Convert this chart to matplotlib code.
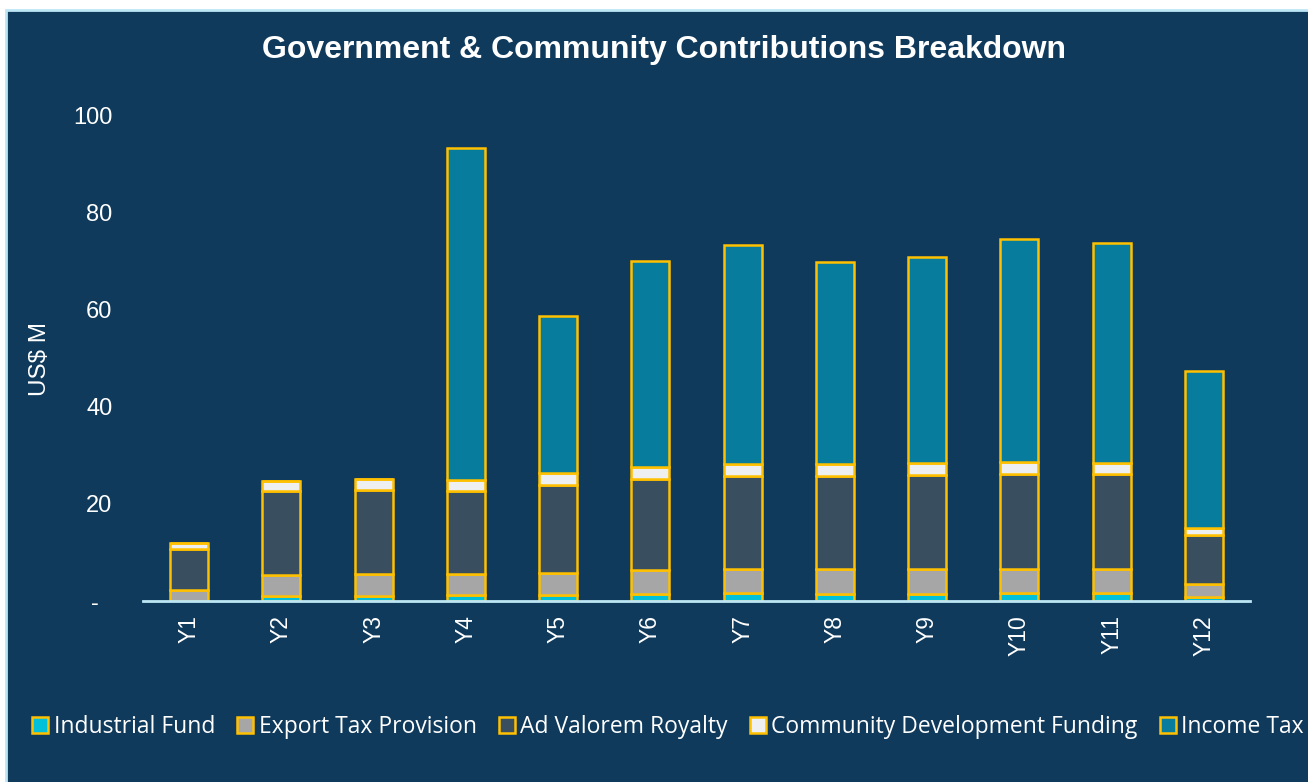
import matplotlib
matplotlib.use("Agg")
import matplotlib.pyplot as plt
from matplotlib.patches import Rectangle
import numpy as np

categories = ["Y1", "Y2", "Y3", "Y4", "Y5", "Y6", "Y7", "Y8", "Y9", "Y10", "Y11", "Y12"]
industrial_fund = [0.0, 1.0, 1.0, 1.2, 1.2, 1.4, 1.6, 1.4, 1.4, 1.6, 1.6, 0.8]
export_tax = [2.3, 4.3, 4.6, 4.4, 4.6, 5.0, 4.9, 5.1, 5.1, 5.1, 4.9, 2.7]
ad_valorem = [8.5, 17.3, 17.3, 17.1, 18.1, 18.7, 19.3, 19.3, 19.4, 19.4, 19.6, 10.2]
community_dev = [1.2, 2.2, 2.3, 2.2, 2.4, 2.5, 2.5, 2.4, 2.5, 2.6, 2.4, 1.4]
income_tax = [0.0, 0.0, 0.0, 68.6, 32.5, 42.5, 45.1, 41.6, 42.5, 45.9, 45.4, 32.3]

series_names = ["Industrial Fund", "Export Tax Provision", "Ad Valorem Royalty",
                "Community Development Funding", "Income Tax"]
series_colors = ["#00C0DA", "#A6A6A6", "#394E5F", "#EEEFF1", "#077C9C"]
yticks = [0, 20, 40, 60, 80, 100]
ytick_labels = ["-  ", "20", "40", "60", "80", "100"]

BG = "#0F3A5C"
EDGE = "#FFC000"
AXIS = "#BDE6F5"

fig = plt.figure(figsize=(13.08, 7.82), dpi=100, facecolor="white")
bgrect = Rectangle((6 / 1308, -0.01), 1.01, 1 - 10 / 782 + 0.01,
                   transform=fig.transFigure, facecolor=BG,
                   edgecolor=AXIS, linewidth=2, zorder=-10)
fig.patches.append(bgrect)

ax = fig.add_axes([143 / 1308, 1 - 601 / 782, (1250 - 143) / 1308, (601 - 116) / 782])
ax.set_facecolor("none")
ax.set_zorder(5)

x = np.arange(len(categories))
data = [industrial_fund, export_tax, ad_valorem, community_dev, income_tax]
bottom = np.zeros(len(categories))
for name, vals, col in zip(series_names, data, series_colors):
    v = np.array(vals)
    ax.bar(x, v, width=0.41, bottom=bottom, color=col, edgecolor=EDGE,
           linewidth=1.8, label=name, zorder=3)
    bottom += v

ax.set_xlim(-0.5, len(categories) - 0.5)
ax.set_ylim(0, 100)
ax.set_yticks(yticks)
ax.set_yticklabels(ytick_labels, fontsize=17, color="white", family="Liberation Sans")
ax.set_xticks(x)
ax.set_xticklabels(categories, rotation=90, fontsize=16.5, color="white", family="Liberation Sans")
ax.tick_params(axis="y", length=0, pad=22)
ax.tick_params(axis="x", length=0, pad=10)
for s in ["top", "right", "left"]:
    ax.spines[s].set_visible(False)
ax.spines["bottom"].set_color(AXIS)
ax.spines["bottom"].set_linewidth(2)
ax.spines["bottom"].set_zorder(4)

ax.set_ylabel("US$ M", fontsize=17.5, color="white", family="Liberation Sans")
ax.yaxis.set_label_coords(-0.083, 0.5)

fig.text(664 / 1308, 1 - 50 / 782, "Government & Community Contributions Breakdown",
         ha="center", va="center", fontsize=23, fontweight="bold", color="white",
         family="Liberation Sans")

leg = fig.legend(loc="center", bbox_to_anchor=(668 / 1308, 1 - 727 / 782), ncol=5,
                 frameon=False, prop={"family": "Open Sans", "size": 16.5},
                 labelcolor="white", handlelength=0.7, handleheight=0.7,
                 handletextpad=0.25, columnspacing=0.95, borderaxespad=0)

fig.savefig("out.png", dpi=100, facecolor=fig.get_facecolor())
